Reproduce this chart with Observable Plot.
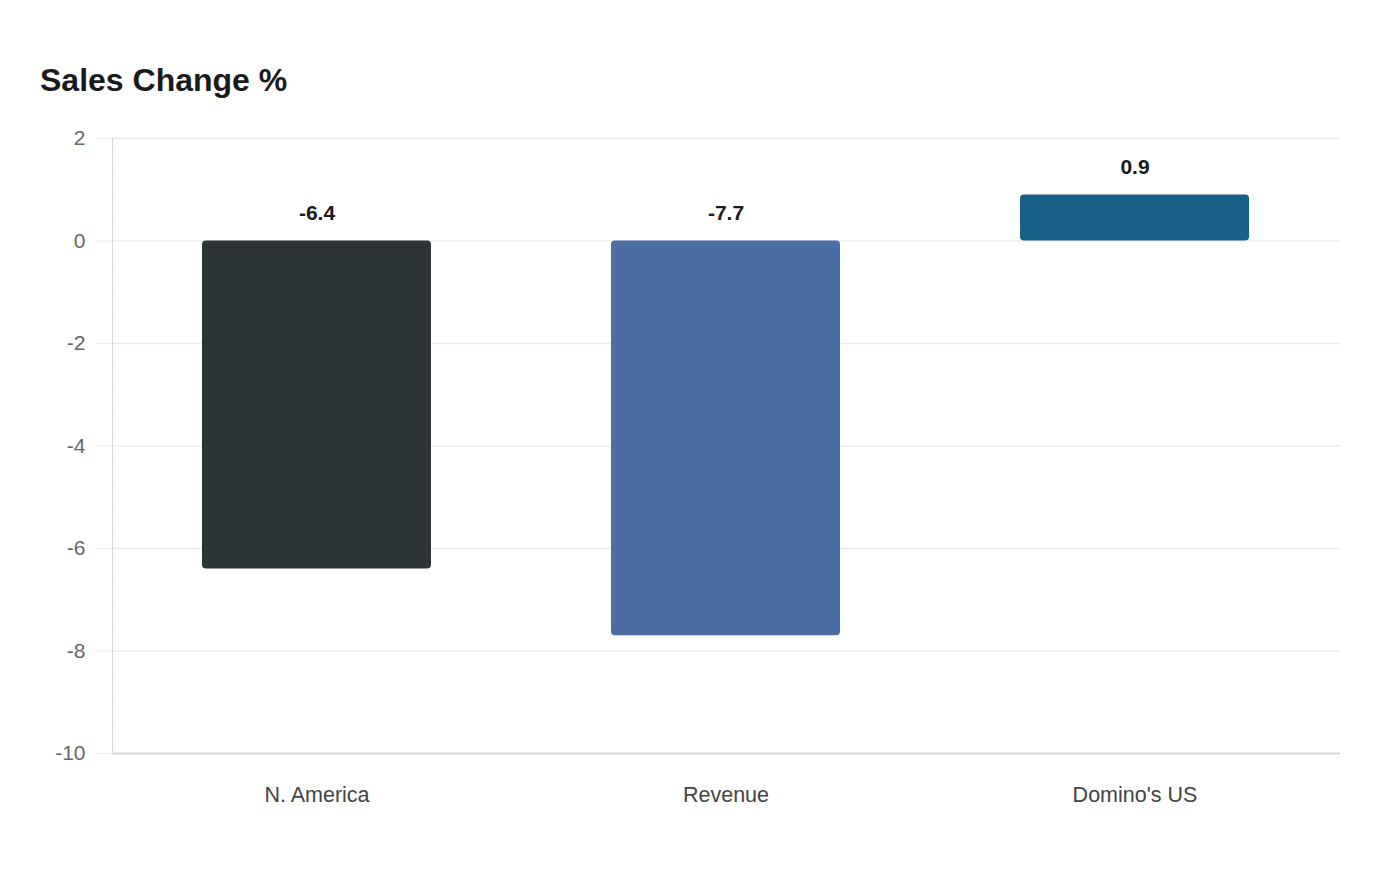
<!DOCTYPE html>
<html>
<head>
<meta charset="utf-8">
<script src="https://cdn.jsdelivr.net/npm/d3@7"></script>
<script src="https://cdn.jsdelivr.net/npm/@observablehq/plot@0.6"></script>
<style>
  body { margin: 0; background: #fff; font-family: "Liberation Sans", Arial, sans-serif; }
  #wrap { position: relative; width: 1400px; height: 880px; }
  #title { position: absolute; left: 40px; top: 62px; font-size: 32px; font-weight: bold; color: #1a1a1a; }
  #chart { position: absolute; left: 0; top: 0; }
</style>
</head>
<body>
<div id="wrap">
  <div id="chart"></div>
  <div id="title">Sales Change %</div>
</div>
<script>
const categories = ["N. America", "Revenue", "Domino's US"];
const values = [-6.4, -7.7, 0.9];
const colors = ["#2d3436", "#4a6ea4", "#186086"];
const yTicks = [2, 0, -2, -4, -6, -8, -10];

const data = categories.map((c, i) => ({ category: c, value: values[i], color: colors[i] }));

const chart = Plot.plot({
  width: 1400,
  height: 880,
  marginTop: 138,
  marginBottom: 127,
  marginLeft: 112,
  marginRight: 60,
  style: { fontFamily: "Liberation Sans, Arial, sans-serif", background: "#fff" },
  x: { domain: categories, paddingInner: 0.44, paddingOuter: 0.22, label: null },
  y: { domain: [-10, 2], label: null },
  marks: [
    Plot.ruleY(yTicks, { stroke: "#ececec", strokeWidth: 1.3 }),
    Plot.barY(data, { x: "category", y: "value", fill: "color", rx: 4 }),
    Plot.ruleY([-10], { stroke: "#d0d0d0", strokeWidth: 1.5 }),
    Plot.frame({ anchor: "left", stroke: "#cfcfcf", strokeDasharray: "1.5,1.5" }),
    Plot.axisY({ ticks: yTicks, tickSize: 16, tickPadding: 11, stroke: "#ececec", fill: "#666", fontSize: 21, tickFormat: d => String(d) }),
    Plot.axisX({ tickSize: 0, tickPadding: 33, fill: "#444", fontSize: 21.5 }),
    Plot.text(data, { x: "category", y: d => Math.max(d.value, 0), text: d => d.value.toFixed(1), dy: -28, fontSize: 21, fontWeight: "bold", fill: "#1a1a1a" })
  ]
});
document.getElementById("chart").appendChild(chart);
</script>
</body>
</html>
